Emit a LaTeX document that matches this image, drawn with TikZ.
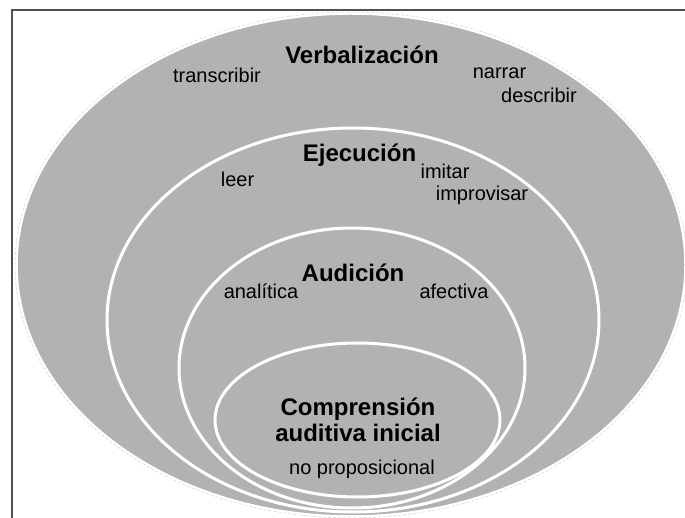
\documentclass[tikz,border=0pt]{standalone}
\usepackage{fontspec}
\setmainfont{Liberation Sans}
\definecolor{ringgray}{RGB}{178,178,178}
\definecolor{framegray}{RGB}{80,80,80}
\begin{document}
\begin{tikzpicture}[x=1pt,y=-1pt,
    ring/.style ={fill=ringgray, draw=white, line width=3pt},
    heading/.style ={font=\fontsize{24}{26}\selectfont\bfseries, anchor=base, inner sep=0pt, align=center},
    item/.style ={font=\fontsize{20}{22}\selectfont, anchor=base, inner sep=0pt}]
   \useasboundingbox (0,0) rectangle (685,518);
   \draw[framegray, line width=2pt] (12,540) -- (12,10) -- (700,10);
   % levels, outside in
   \draw[gray!35, densely dashed, line width=0.5pt] (351,265) ellipse [x radius=336, y radius=253];
   \draw[ring, line width=1.5pt] (351,265) ellipse [x radius=334, y radius=251];
   \draw[ring] (353,320) ellipse [x radius=246, y radius=192];
   \draw[ring] (352,368) ellipse [x radius=173, y radius=140];
   \draw[ring] (357.5,420) ellipse [x radius=142.5, y radius=77];
   % labels
   \node[heading] (verb) at (362,64) {Verbalización};
   \node[item] (transcribir) at (217,83) {transcribir};
   \node[item] (narrar) at (499.5,79) {narrar};
   \node[item] (describir) at (539,103) {describir};
   \node[heading] (ejec) at (359.5,162) {Ejecución};
   \node[item] (leer) at (237.5,187) {leer};
   \node[item] (imitar) at (445,179) {imitar};
   \node[item] (improvisar) at (482,201) {improvisar};
   \node[heading] (audi) at (353,282) {Audición};
   \node[item] (analitica) at (261,299) {analítica};
   \node[item] (afectiva) at (454,299) {afectiva};
   \node[heading] (compr) at (358,441) {Comprensión\\auditiva inicial};
   \node[item] (noprop) at (362,474) {no proposicional};
\end{tikzpicture}
\end{document}
